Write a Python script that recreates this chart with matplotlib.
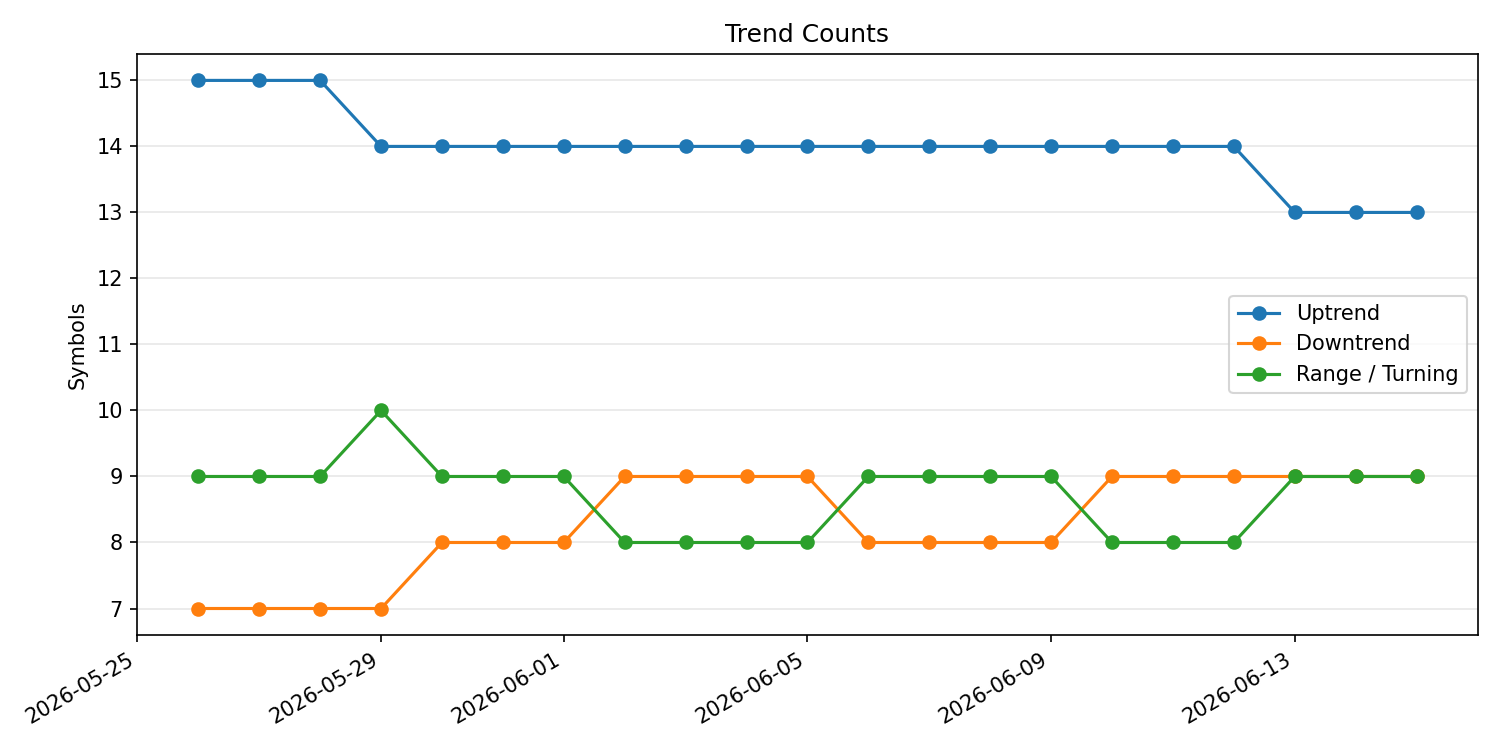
import matplotlib
matplotlib.use("Agg")
import matplotlib.pyplot as plt
import matplotlib.dates as mdates
import pandas as pd

dates = pd.date_range("2026-05-26", "2026-06-15", freq="D")
uptrend = [15, 15, 15, 14, 14, 14, 14, 14, 14, 14, 14, 14, 14, 14, 14, 14, 14, 14, 13, 13, 13]
downtrend = [7, 7, 7, 7, 8, 8, 8, 9, 9, 9, 9, 8, 8, 8, 8, 9, 9, 9, 9, 9, 9]
range_turning = [9, 9, 9, 10, 9, 9, 9, 8, 8, 8, 8, 9, 9, 9, 9, 8, 8, 8, 9, 9, 9]

fig, ax = plt.subplots(figsize=(10, 5), dpi=150)
ax.plot(dates, uptrend, marker="o", label="Uptrend")
ax.plot(dates, downtrend, marker="o", label="Downtrend")
ax.plot(dates, range_turning, marker="o", label="Range / Turning")
ax.set_title("Trend Counts")
ax.set_ylabel("Symbols")
ax.grid(axis="y", alpha=0.3)
ax.xaxis.set_major_locator(mdates.DayLocator(bymonthday=range(1, 32, 4)))
ax.xaxis.set_major_formatter(mdates.DateFormatter("%Y-%m-%d"))
ax.legend(loc="center right")
fig.autofmt_xdate()
fig.tight_layout()
fig.savefig("out.png")
